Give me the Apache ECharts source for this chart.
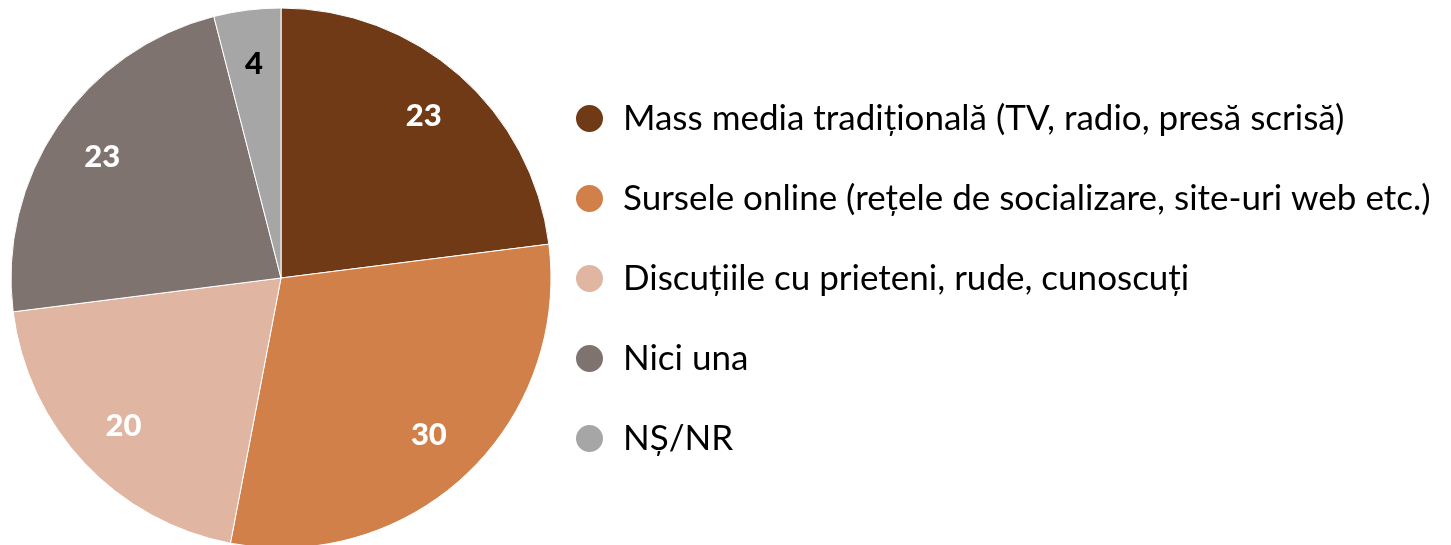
<!doctype html>
<html>
<head>
    <meta charset="UTF-8">
    <title>Surse de informare</title>
    <script src="https://cdn.jsdelivr.net/npm/echarts@6/dist/echarts.min.js"></script>
    <style>
        html, body { margin: 0; padding: 0; background: #fff; }
    </style>
</head>
<body>
<div id="main" style="width: 1451px;height:545px;"></div>
<script type="text/javascript">
    var categories = [
        'Mass media tradițională (TV, radio, presă scrisă)',
        'Sursele online (rețele de socializare, site-uri web etc.)',
        'Discuțiile cu prieteni, rude, cunoscuți',
        'Nici una',
        'NȘ/NR'
    ];
    var values = [23, 30, 20, 23, 4];
    var colors = ['#703A16', '#D08048', '#E0B5A2', '#7F7370', '#A6A6A6'];
    var labelColors = ['#fff', '#fff', '#fff', '#fff', '#000'];

    var myChart = echarts.init(document.getElementById('main'));

    var pieData = categories.map(function (name, i) {
        return { name: name, value: values[i], itemStyle: { color: colors[i] } };
    });
    // copie invizibila doar pentru etichete (le pune mai aproape de margine)
    var labelData = categories.map(function (name, i) {
        return {
            name: name, value: values[i],
            label: { color: labelColors[i] }
        };
    });

    var option = {
        animation: false,
        legend: {
            orient: 'vertical',
            left: 569,
            top: 96,
            icon: 'circle',
            itemWidth: 29,
            itemHeight: 29,
            itemGap: 45,
            textStyle: {
                fontFamily: 'Lato',
                fontSize: 35,
                color: '#000',
                padding: [0, 0, 0, 14]
            },
            data: categories
        },
        series: [
            {
                name: 'surse',
                type: 'pie',
                center: [281, 278],
                radius: [0, 270],
                startAngle: 90,
                clockwise: true,
                itemStyle: { borderColor: '#fff', borderWidth: 1 },
                label: { show: false },
                labelLine: { show: false },
                emphasis: { disabled: true },
                data: pieData
            },
            {
                name: 'etichete',
                type: 'pie',
                center: [281, 278],
                radius: [156, 270],
                startAngle: 90,
                clockwise: true,
                silent: true,
                legendHoverLink: false,
                itemStyle: { color: 'rgba(0,0,0,0)' },
                label: {
                    show: true,
                    position: 'inside',
                    formatter: '{c}',
                    fontFamily: 'Lato',
                    fontWeight: 900,
                    fontSize: 31
                },
                labelLine: { show: false },
                data: labelData
            }
        ]
    };
    myChart.setOption(option);
</script>
</body>
</html>
